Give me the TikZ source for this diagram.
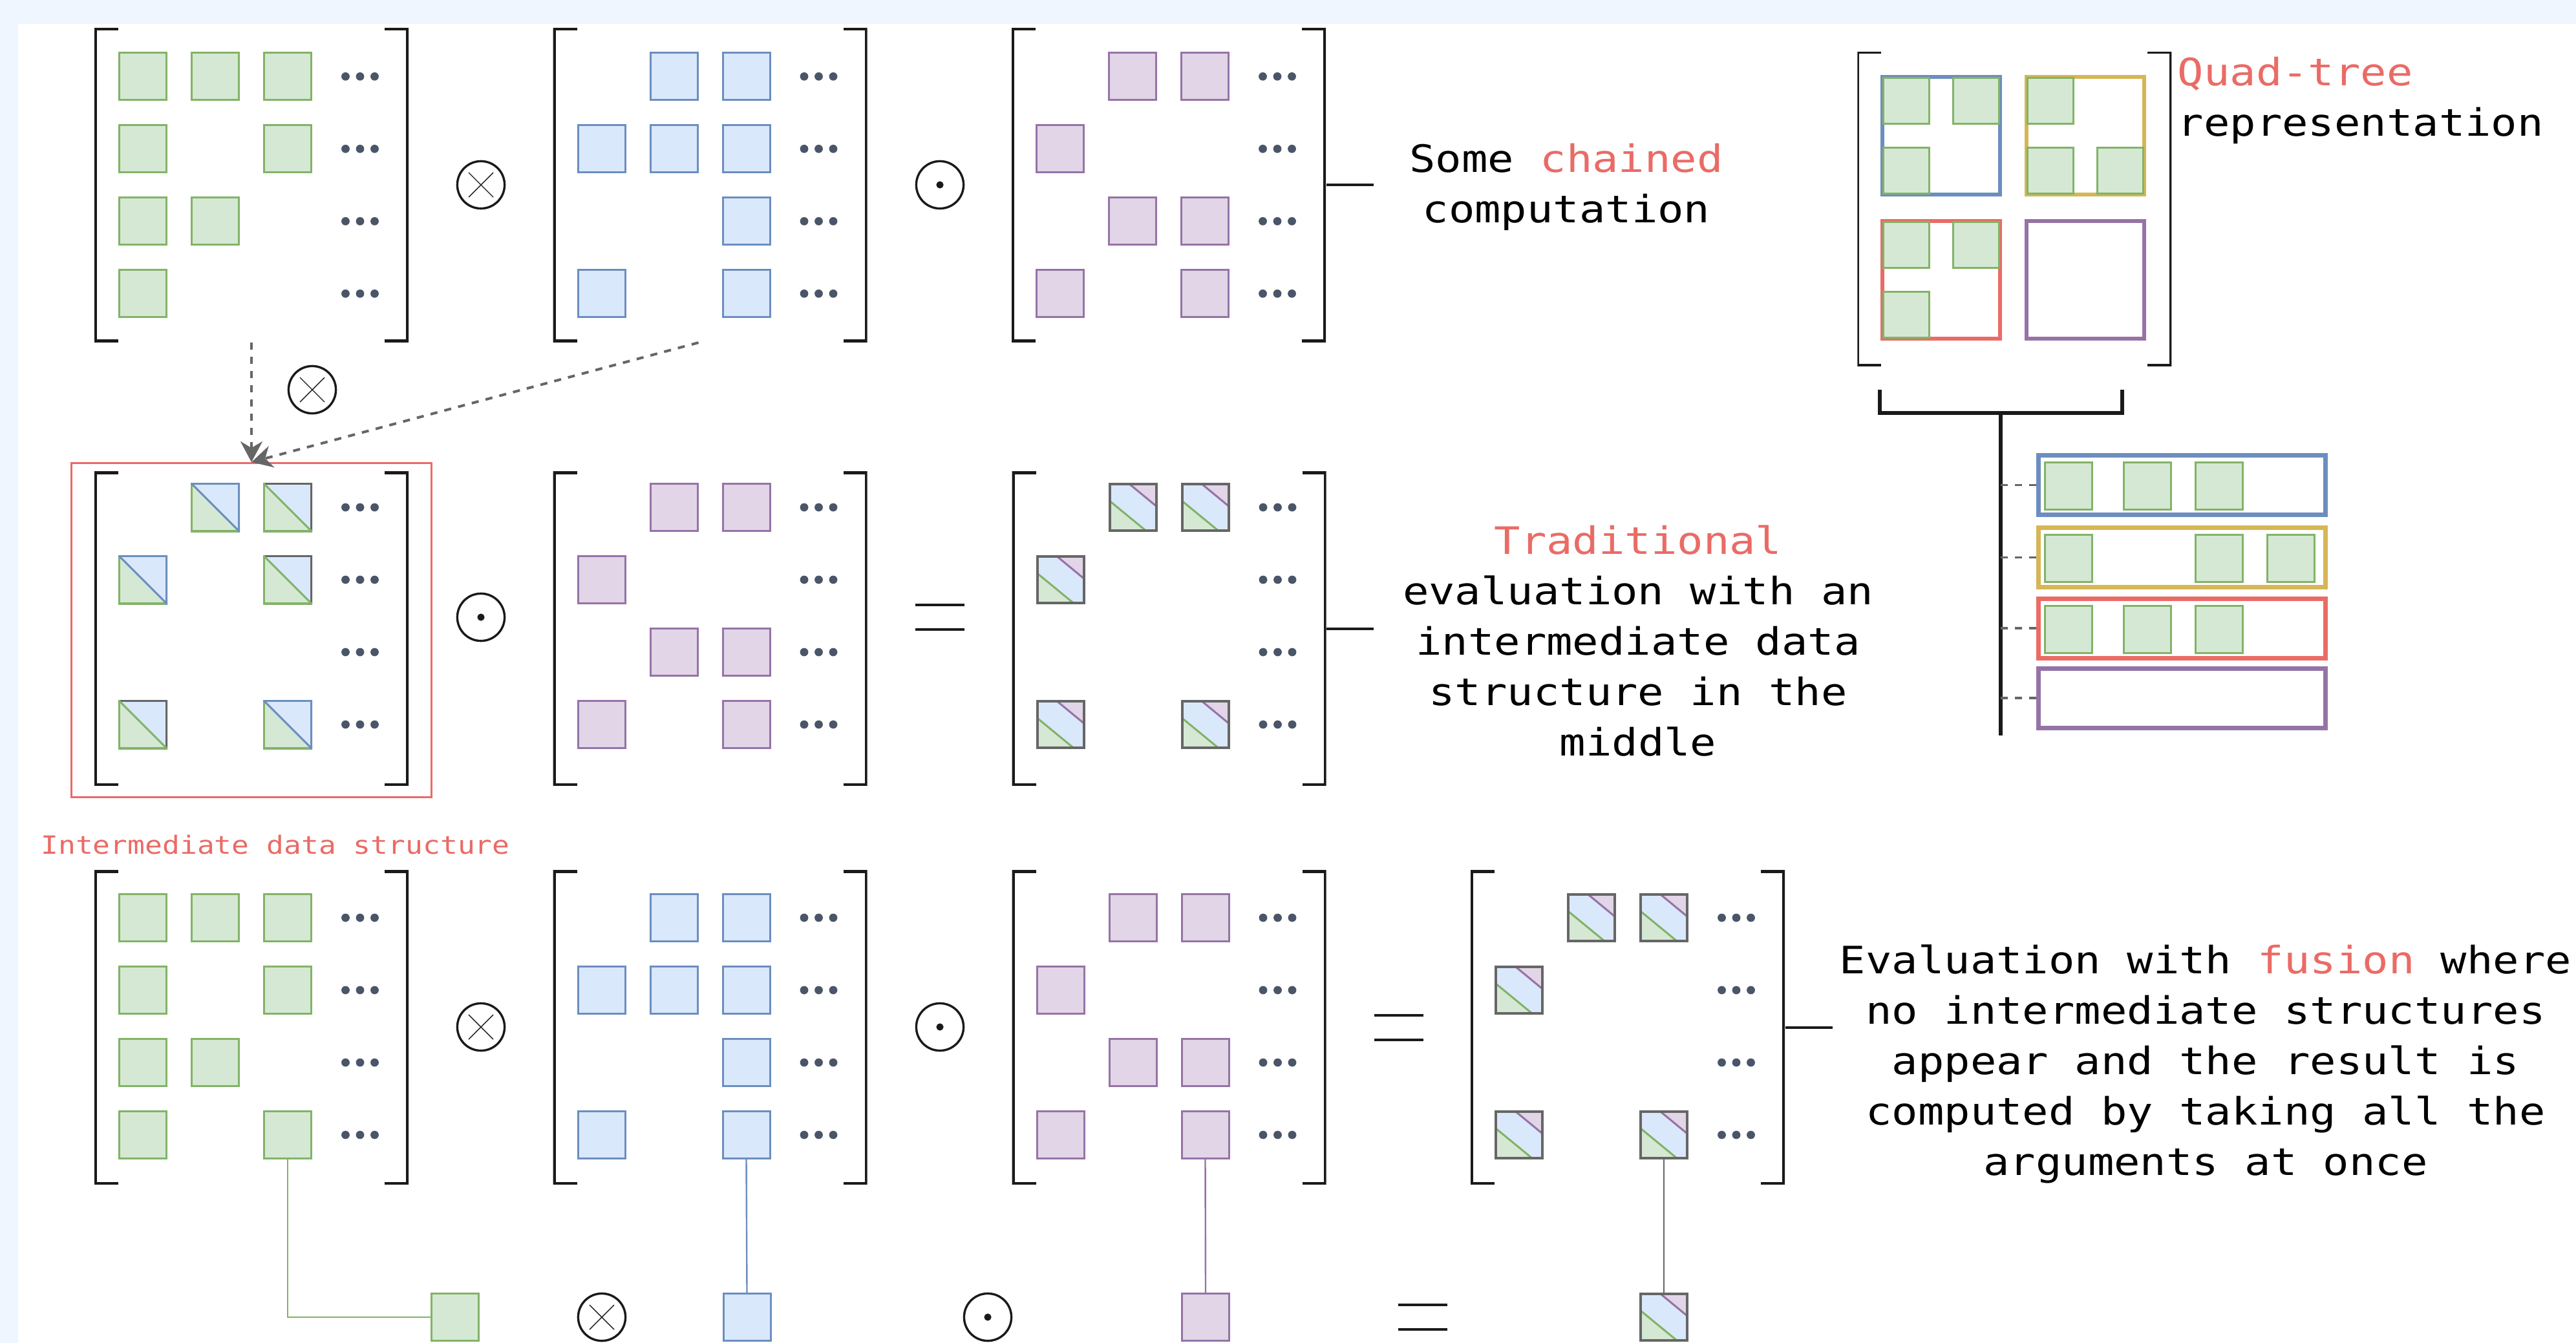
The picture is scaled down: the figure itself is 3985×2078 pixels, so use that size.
\documentclass[tikz,border=0pt]{standalone}
\usepackage{fontspec}
\setmonofont[FakeStretch=1.15]{DejaVu Sans Mono}
\usepackage{tikz}
\usetikzlibrary{arrows.meta}

\definecolor{gfill}{HTML}{D5E8D4}
\definecolor{gline}{HTML}{82B366}
\definecolor{bfill}{HTML}{DAE8FC}
\definecolor{bline}{HTML}{6C8EBF}
\definecolor{pfill}{HTML}{E1D5E7}
\definecolor{pline}{HTML}{9673A6}
\definecolor{yline}{HTML}{D6B656}
\definecolor{rline}{HTML}{EA6B66}
\definecolor{gray6}{HTML}{666666}
\definecolor{dotc}{HTML}{4A5568}
\definecolor{ink}{HTML}{1A1A1A}
\definecolor{pagebg}{HTML}{EFF6FF}

% three dots at the end of every row of matrix #1
\newcommand{\mdots}[2]{%
  \foreach \r in {1,...,4}
    \foreach \d in {-22.5,0,22.5}
      \fill[dotc] ([shift={({168+\d},{112*\r-#2})}]#1.center) circle (1.6pt);
}

\begin{document}
\begin{tikzpicture}[x=0.25pt,y=-0.25pt,
  mat/.style={minimum width=121.5pt, minimum height=121.5pt, inner sep=0pt,
    path picture={
      \draw[ink, line width=#1] ([xshift=9.25pt]path picture bounding box.north west)
        -| (path picture bounding box.south west) -- ++(9.25pt,0pt);
      \draw[ink, line width=#1] ([xshift=-9.25pt]path picture bounding box.north east)
        -| (path picture bounding box.south east) -- ++(-9.25pt,0pt);}},
  mat/.default=2pt,
  sq/.style={draw, line width=0.75pt, minimum size=18.25pt, inner sep=0pt},
  gsq/.style={sq, draw=gline, fill=gfill},
  bsq/.style={sq, draw=bline, fill=bfill},
  psq/.style={sq, draw=pline, fill=pfill},
  icell/.style 2 args={sq, draw=none, fill=bfill, minimum size=19pt,
    path picture={
      \fill[gfill] (path picture bounding box.north west) -- (path picture bounding box.south west)
        -- (path picture bounding box.south east) -- cycle;
      \draw[gline, line width=1.5pt] (path picture bounding box.north west)
        -- (path picture bounding box.south west) -- (path picture bounding box.south east);
      \draw[#1, line width=1.5pt] (path picture bounding box.north west)
        -- (path picture bounding box.north east) -- (path picture bounding box.south east);
      \draw[#2, line width=0.75pt] (path picture bounding box.north west)
        -- (path picture bounding box.south east);}},
  rcell/.style={sq, draw=gray6, line width=1pt, fill=bfill, minimum size=18pt,
    path picture={
      \fill[gfill] (path picture bounding box.south west) -- ++(0pt,11.5pt) -- ++(14pt,-11.5pt) -- cycle;
      \fill[pfill] (path picture bounding box.north east) -- ++(-10.3pt,0pt) -- ++(10.3pt,-8.5pt) -- cycle;
      \draw[gline, line width=0.75pt] ([yshift=11.5pt]path picture bounding box.south west) -- ++(14pt,-11.5pt);
      \draw[pline, line width=0.75pt] ([xshift=-10.3pt]path picture bounding box.north east) -- ++(10.3pt,-8.5pt);}},
  opcirc/.style={circle, draw=ink, line width=0.85pt, minimum size=18.3pt, inner sep=0pt},
  otimes/.style={opcirc,
    path picture={
      \draw[ink, line width=0.35pt]
        ([shift={(-4.75pt,-4.75pt)}]path picture bounding box.center) -- ([shift={(4.75pt,4.75pt)}]path picture bounding box.center)
        ([shift={(-4.75pt,4.75pt)}]path picture bounding box.center) -- ([shift={(4.75pt,-4.75pt)}]path picture bounding box.center);}},
  odot/.style={opcirc,
    path picture={\fill[ink] (path picture bounding box.center) circle (1.4pt);}},
  eqsign/.style={minimum width=18.5pt, minimum height=9.25pt, inner sep=0pt},
  eqline/.style={draw=ink, line width=1pt},
  brk/.style={draw=ink, line width=1pt},
  dashc/.style={draw=gray6, line width=1pt, dash pattern=on 2.75pt off 2.75pt},
  quad/.style={draw, line width=1.5pt, minimum size=45.5pt, inner sep=0pt},
  lrow/.style={draw, line width=1.75pt, minimum width=111pt, minimum height=23pt, inner sep=0pt},
  tree/.style={draw=ink, line width=1.5pt},
  txt/.style={font=\ttfamily\fontsize{14.6}{19.5}\selectfont, inner sep=0pt, align=center},
  smalltxt/.style={font=\ttfamily\fontsize{9.7}{12}\selectfont, inner sep=0pt}
]

% Page
  \fill[pagebg] (0,0) rectangle (3985,2078);
  \fill[white] (28,37) rectangle (3985,2078);
  \useasboundingbox (0,0) rectangle (3985,2078);

% Nodes
  % some chained computation
  \node[mat] (mA) at (389,286.3)    {};
  \node[mat] (mB) at (1098.5,286.3) {};
  \node[mat] (mC) at (1808,286.3)   {};
  \foreach \c/\r in {1/1,2/1,3/1,1/2,3/2,1/3,2/3,1/4}
    \node[gsq] (mA-\c\r) at ([shift={({112*\c-280},{112*\r-280})}]mA.center) {};
  \foreach \c/\r in {2/1,3/1,1/2,2/2,3/2,3/3,1/4,3/4}
    \node[bsq] (mB-\c\r) at ([shift={({112*\c-280},{112*\r-280})}]mB.center) {};
  \foreach \c/\r in {2/1,3/1,1/2,2/3,3/3,1/4,3/4}
    \node[psq] (mC-\c\r) at ([shift={({112*\c-280},{112*\r-280})}]mC.center) {};
  \node[otimes] (opA) at (744,286)  {};
  \node[odot]   (opB) at (1454,286) {};
  \node[txt, anchor=base] (txtA) at (2423,344.6) {Some \textcolor{rline}{chained}\\computation};

  % traditional evaluation
  \node[otimes] (opC) at (483,603) {};
  \node[draw=rline, line width=0.75pt, minimum width=139.25pt, minimum height=129.25pt] (inter) at (389,975) {};
  \node[smalltxt, text=rline, anchor=base] (interlbl) at (426,1321) {Intermediate data structure};
  \node[mat] (mD) at (389,972.5)    {};
  \node[mat] (mE) at (1098.5,972.5) {};
  \node[mat] (mF) at (1808.5,972.5) {};
  \foreach \c/\r/\e/\g in {2/1/bline/bline,3/1/gray6/gline,1/2/bline/bline,3/2/gray6/gline,1/4/gray6/gline,3/4/bline/bline}
    \node[icell={\e}{\g}] (mD-\c\r) at ([shift={({112*\c-280},{112*\r-299.5})}]mD.center) {};
  \foreach \c/\r in {2/1,3/1,1/2,2/3,3/3,1/4,3/4}
    \node[psq] (mE-\c\r) at ([shift={({112*\c-280},{112*\r-299.5})}]mE.center) {};
  \foreach \c/\r in {2/1,3/1,1/2,1/4,3/4}
    \node[rcell] (mF-\c\r) at ([shift={({112*\c-280},{112*\r-299.5})}]mF.center) {};
  \node[odot]   (opD) at (744,955)  {};
  \node[eqsign] (eqA) at (1454,955) {};
  \node[txt, anchor=base] (txtB) at (2534,1169.7)
    {\textcolor{rline}{Traditional}\\evaluation with an\\intermediate data\\structure in the\\middle};

  % fusion
  \node[mat] (mG) at (389,1589.5)    {};
  \node[mat] (mH) at (1098.5,1589.5) {};
  \node[mat] (mI) at (1808.5,1589.5) {};
  \node[mat] (mJ) at (2518,1589.5)   {};
  \foreach \c/\r in {1/1,2/1,3/1,1/2,3/2,1/3,2/3,1/4,3/4}
    \node[gsq] (mG-\c\r) at ([shift={({112*\c-280},{112*\r-281.5})}]mG.center) {};
  \foreach \c/\r in {2/1,3/1,1/2,2/2,3/2,3/3,1/4,3/4}
    \node[bsq] (mH-\c\r) at ([shift={({112*\c-280},{112*\r-281.5})}]mH.center) {};
  \foreach \c/\r in {2/1,3/1,1/2,2/3,3/3,1/4,3/4}
    \node[psq] (mI-\c\r) at ([shift={({112*\c-280},{112*\r-281.5})}]mI.center) {};
  \foreach \c/\r in {2/1,3/1,1/2,1/4,3/4}
    \node[rcell] (mJ-\c\r) at ([shift={({112*\c-280},{112*\r-281.5})}]mJ.center) {};
  \node[otimes] (opE) at (744,1589)  {};
  \node[odot]   (opF) at (1454,1589) {};
  \node[eqsign] (eqB) at (2164,1590) {};
  \node[txt, anchor=base] (txtC) at (3412,1818.5)
    {Evaluation with \textcolor{rline}{fusion} where\\no intermediate structures\\appear and the result is\\computed by taking all the\\arguments at once};

  \node[gsq]    (elA) at (703.5,2038)  {};
  \node[otimes] (opG) at (931,2038)    {};
  \node[bsq]    (elB) at (1155.5,2038) {};
  \node[odot]   (opH) at (1528,2038)   {};
  \node[psq]    (elC) at (1865,2038)   {};
  \node[eqsign] (eqC) at (2201,2038)   {};
  \node[rcell]  (elD) at (2574,2038)   {};

  \foreach \m/\o in {mA/280,mB/280,mC/280,mD/299.5,mE/299.5,mF/299.5,mG/281.5,mH/281.5,mI/281.5,mJ/281.5}
    \mdots{\m}{\o};

  % quad-tree
  \node[mat=1.5pt] (qm) at (3116.3,323.4) {};
  \node[quad, draw=bline] (qb) at (3002.5,209.7) {};
  \node[quad, draw=yline] (qy) at (3226,209.7)   {};
  \node[quad, draw=rline] (qr) at (3002.5,433)   {};
  \node[quad, draw=pline] (qp) at (3226,433)     {};
  \foreach \q/\dx/\dy in {qb/-1/-1,qb/1/-1,qb/-1/1,qy/-1/-1,qy/-1/1,qy/1/1,qr/-1/-1,qr/1/-1,qr/-1/1}
    \node[gsq, minimum size=17.75pt] (\q\dx\dy) at ([shift={({54*\dx},{54*\dy})}]\q.center) {};
  \node[txt, align=left, anchor=base west] (txtD) at (3368,210.5) {\textcolor{rline}{Quad-tree}\\representation};

  \node[lrow, draw=bline] (lb) at (3375.5,750.5) {};
  \node[lrow, draw=yline] (ly) at (3375.5,862.5) {};
  \node[lrow, draw=rline] (lr) at (3375.5,972)   {};
  \node[lrow, draw=pline] (lp) at (3375.5,1080)  {};
  \foreach \l/\k/\dx in {lb/1/-176,lb/2/-54,lb/3/57,ly/1/-176,ly/3/57,ly/4/168,lr/1/-176,lr/2/-54,lr/3/57}
    \node[gsq] (\l-\k) at ([shift={(\dx,1.5)}]\l.center) {};

  \coordinate (qL) at (2908,603);
  \coordinate (qR) at (3283,603);
  \coordinate (qT) at (3095,639);
  \coordinate (qE) at (3095,1138);
  \coordinate (cA) at (2125,286.3);
  \coordinate (cB) at (2125,972.5);
  \coordinate (cC) at (2835,1589.5);

% Edges
  \draw[dashc, -{Stealth[length=8pt, width=8.5pt, inset=2.5pt]}] (mA.south) -- (inter.north);
  \draw[dashc, -{Stealth[length=8pt, width=8.5pt, inset=2.5pt]}] ([xshift=-4.5pt]mB.south) -- (inter.north);

  \draw[brk] (mC.east) -- (cA);
  \draw[brk] (mF.east) -- (cB);
  \draw[brk] (mJ.east) -- (cC);

  \foreach \e in {eqA,eqB,eqC}
    \draw[eqline] (\e.north west) -- (\e.north east) (\e.south west) -- (\e.south east);

  \draw[gline, line width=0.6pt] (mG-34.south) |- (elA.west);
  \draw[bline, line width=0.6pt] (mH-34.south) -- (elB.north);
  \draw[pline, line width=0.6pt] (mI-34.south) -- (elC.north);
  \draw[gray6, line width=0.6pt] (mJ-34.south) -- (elD.north);

  \draw[tree] (qL) |- (qT) -| (qR);
  \draw[tree] (qT) -- (qE);
  \foreach \l in {lb,ly,lr,lp}
    \draw[dashc, line width=0.85pt] (qE |- \l.west) -- (\l.west);

\end{tikzpicture}
\end{document}
